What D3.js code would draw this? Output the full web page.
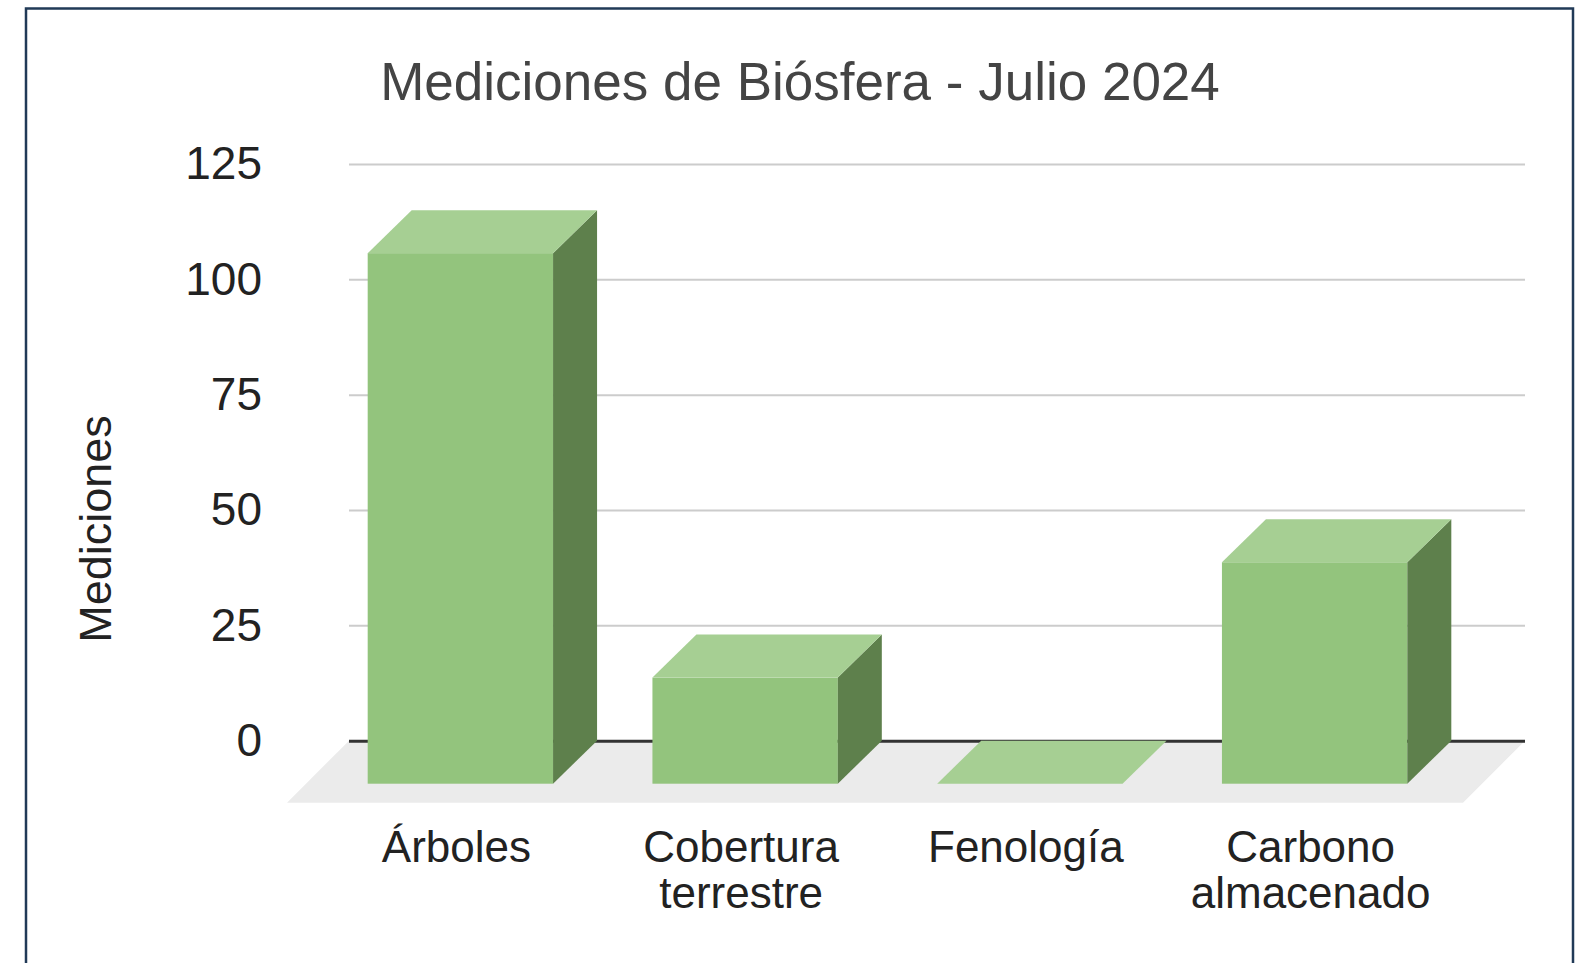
<!DOCTYPE html>
<html>
<head>
<meta charset="utf-8">
<script src="https://cdn.jsdelivr.net/npm/d3@7"></script>
<style>
  body { margin: 0; background: #fff; }
  svg { display: block; font-family: Arial, "Liberation Sans", sans-serif; }
</style>
</head>
<body>
<div id="chart"></div>
<script>
// Chart data
const categories = ["Árboles", "Cobertura terrestre", "Fenología", "Carbono almacenado"];
const values = [115, 23, 0, 48];
const yTicks = [0, 25, 50, 75, 100, 125];
const chartTitle = "Mediciones de Biósfera - Julio 2024";
const yTitle = "Mediciones";

(function () {
    const width = 1587, height = 963;

    // 3D offsets: bar depth and floor depth
    const DX = 44, DY = 43;
    const FLOOR = 62;

    // Back wall region
    const wallLeft = 349, wallRight = 1525;

    const svg = d3.select("#chart").append("svg")
        .attr("width", width)
        .attr("height", height);

    // outer frame
    svg.append("rect")
        .attr("x", 26).attr("y", 8.5)
        .attr("width", 1547).attr("height", 1000)
        .attr("fill", "none")
        .attr("stroke", "#213a57")
        .attr("stroke-width", 2.5);

    // y scale on the back wall
    const yBack = d3.scaleLinear().domain([0, 125]).range([740.7, 164]);
    const yFront = v => yBack(v) + DY;

    // x band scale on the front plane
    const x = d3.scaleBand()
        .domain(categories)
        .range([318, 1457])
        .paddingInner(0.349)
        .paddingOuter(0.1745);

    // floor
    const y0 = yBack(0);
    svg.append("polygon")
        .attr("points", [
            [wallLeft, y0], [wallRight, y0],
            [wallRight - FLOOR, y0 + FLOOR], [wallLeft - FLOOR, y0 + FLOOR]
        ].map(p => p.join(",")).join(" "))
        .attr("fill", "#ebebeb");

    // gridlines + tick labels
    const yAxis = svg.append("g")
        .attr("transform", `translate(${wallLeft},0)`)
        .call(d3.axisLeft(yBack)
            .tickValues(yTicks)
            .tickSize(-(wallRight - wallLeft))
            .tickPadding(wallLeft - 262));
    yAxis.select(".domain").remove();
    yAxis.selectAll(".tick line")
        .attr("stroke", d => d === 0 ? "#333" : "#cccccc")
        .attr("stroke-width", d => d === 0 ? 3 : 2);
    yAxis.selectAll(".tick text")
        .attr("fill", "#222")
        .attr("font-size", 46)
        .attr("font-family", "Arial, 'Liberation Sans', sans-serif");

    // bars
    const bars = svg.append("g").selectAll("g")
        .data(categories.map((c, i) => ({ cat: c, value: values[i] })))
        .join("g");

    const pts = arr => arr.map(p => p.join(",")).join(" ");

    // front face
    bars.filter(d => d.value > 0).append("rect")
        .attr("x", d => x(d.cat))
        .attr("y", d => yFront(d.value))
        .attr("width", x.bandwidth())
        .attr("height", d => yFront(0) - yFront(d.value))
        .attr("fill", "#93c47d");

    // side face
    bars.filter(d => d.value > 0).append("polygon")
        .attr("points", d => {
            const xr = x(d.cat) + x.bandwidth();
            return pts([[xr, yFront(d.value)], [xr + DX, yFront(d.value) - DY],
                        [xr + DX, yFront(0) - DY], [xr, yFront(0)]]);
        })
        .attr("fill", "#5e804c");

    // top face
    bars.append("polygon")
        .attr("points", d => {
            const xl = x(d.cat), xr = xl + x.bandwidth(), yt = yFront(d.value);
            return pts([[xl, yt], [xr, yt], [xr + DX, yt - DY], [xl + DX, yt - DY]]);
        })
        .attr("fill", "#a6cf93");

    // category labels
    const labels = svg.append("g").selectAll("text")
        .data(categories)
        .join("text")
        .attr("x", d => x(d) + x.bandwidth() / 2 - 4)
        .attr("y", 862)
        .attr("text-anchor", "middle")
        .attr("font-size", 44)
        .attr("fill", "#222");
    labels.selectAll("tspan")
        .data(d => d.split(" "))
        .join("tspan")
        .attr("x", function () { return d3.select(this.parentNode).attr("x"); })
        .attr("dy", (d, i) => i === 0 ? 0 : 46)
        .text(d => d);

    // title
    svg.append("text")
        .attr("x", 800)
        .attr("y", 100)
        .attr("text-anchor", "middle")
        .attr("font-size", 53)
        .attr("fill", "#444")
        .text(chartTitle);

    // y axis title
    svg.append("text")
        .attr("transform", "translate(111,529) rotate(-90)")
        .attr("text-anchor", "middle")
        .attr("font-size", 45)
        .attr("fill", "#222")
        .text(yTitle);
})();
</script>
</body>
</html>
